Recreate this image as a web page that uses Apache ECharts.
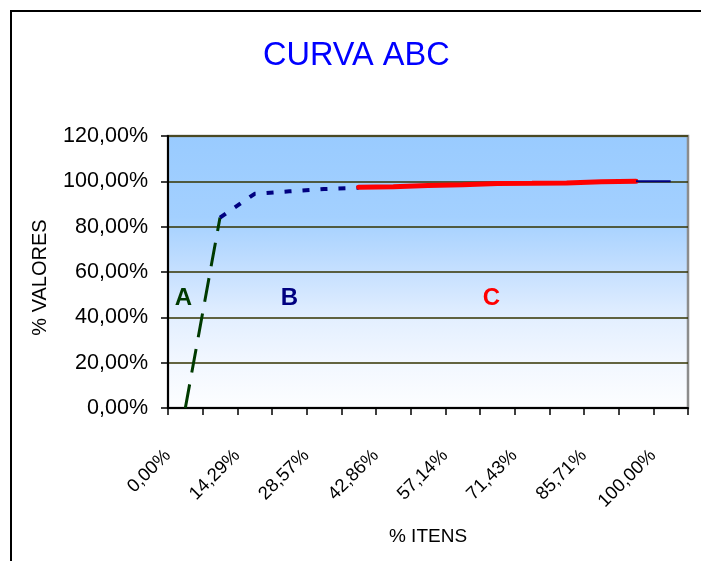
<!DOCTYPE html>
<html>
<head>
<meta charset="utf-8">
<script src="https://cdn.jsdelivr.net/npm/echarts@6/dist/echarts.min.js"></script>
<style>
html,body{margin:0;padding:0;background:#fff;}
#chart{width:701px;height:561px;}
</style>
</head>
<body>
<div id="chart"></div>
<script>
// Category labels (% ITENS)
var categories = ['0,00%','7,14%','14,29%','21,43%','28,57%','35,71%','42,86%','50,00%','57,14%','64,29%','71,43%','78,57%','85,71%','92,86%','100,00%'];
// Series values (% VALORES)
var serieA = [0, 84, null, null, null, null, null, null, null, null, null, null, null, null, null];
var serieB = [null, 84, 94.5, 95.6, 96.6, 97.2, null, null, null, null, null, null, null, null, null];
var serieC = [null, null, null, null, null, 97.4, 97.6, 98.2, 98.5, 99.0, 99.1, 99.3, 99.8, 100, null];
var serieD = [null, null, null, null, null, null, null, null, null, null, null, null, null, 100, 100];
// Y ticks
var yMin = 0, yMax = 120, yStep = 20;

var FONT = 'Liberation Sans, Arial, sans-serif';
var chart = echarts.init(document.getElementById('chart'), null, {renderer: 'canvas'});

var option = {
  animation: false,
  backgroundColor: '#ffffff',
  title: {
    text: 'CURVA ABC',
    left: 263,
    top: 40,
    padding: 0,
    textStyle: {color: '#0000FF', fontSize: 32.5, fontWeight: 'normal', fontFamily: FONT}
  },
  grid: {
    left: 168, right: 13, top: 136, bottom: 153,
    show: true,
    borderColor: '#8c8c8c',
    borderWidth: 2.5,
    backgroundColor: new echarts.graphic.LinearGradient(0, 0, 0, 1, [
      {offset: 0, color: '#99CBFF'},
      {offset: 0.3, color: '#A3D0FF'},
      {offset: 0.5, color: '#C6E0FF'},
      {offset: 0.67, color: '#E3EFFF'},
      {offset: 0.83, color: '#F2F7FF'},
      {offset: 1, color: '#FDFEFF'}
    ])
  },
  xAxis: {
    type: 'category',
    data: categories,
    boundaryGap: true,
    name: '% ITENS',
    nameLocation: 'middle',
    nameGap: 119,
    nameTextStyle: {color: '#000', fontSize: 19, fontFamily: FONT},
    axisLine: {lineStyle: {color: '#000', width: 2}},
    axisTick: {show: true, interval: 0, length: 7, lineStyle: {color: '#000', width: 1.5}},
    axisLabel: {
      interval: 1,
      rotate: 45,
      margin: 27,
      padding: [0, 25, 0, 0],
      color: '#000',
      fontSize: 18.5,
      fontFamily: FONT
    },
    splitLine: {show: false}
  },
  yAxis: {
    type: 'value',
    min: yMin, max: yMax, interval: yStep,
    name: '% VALORES',
    nameLocation: 'middle',
    nameRotate: 90,
    nameGap: 118,
    nameTextStyle: {color: '#000', fontSize: 20, fontFamily: FONT, padding: [0, 11, 0, 0]},
    axisLine: {show: true, lineStyle: {color: '#000', width: 2}},
    axisTick: {show: true, inside: false, length: 7, lineStyle: {color: '#000', width: 1.5}},
    axisLabel: {
      margin: 20,
      padding: [7, 0, 0, 0],
      color: '#000',
      fontSize: 21.5,
      fontFamily: FONT,
      formatter: function (v) { return v.toFixed(2).replace('.', ',') + '%'; }
    },
    splitLine: {show: true, lineStyle: {color: '#333300', width: 1.5}}
  },
  series: [
    {
      name: 'A', type: 'line', data: serieA, showSymbol: false, symbol: 'none',
      connectNulls: false,
      lineStyle: {color: '#003A00', width: 3, type: [24, 12], cap: 'butt'}
    },
    {
      name: 'B', type: 'line', data: serieB, showSymbol: false, symbol: 'none',
      lineStyle: {color: '#000080', width: 4, type: [7, 11], cap: 'butt'}
    },
    {
      name: 'C', type: 'line', data: serieC, showSymbol: false, symbol: 'none',
      lineStyle: {color: '#FF0000', width: 5, type: 'solid', cap: 'round'}
    },
    {
      name: 'D', type: 'line', data: serieD, showSymbol: false, symbol: 'none',
      lineStyle: {color: '#000080', width: 2, type: 'solid'}
    }
  ],
  graphic: [
    {
      type: 'rect', z: 100, silent: true,
      shape: {x: 11, y: 11, width: 800, height: 700},
      style: {fill: 'none', stroke: '#000', lineWidth: 2}
    },
    {
      type: 'text', z: 100, x: 183.5, y: 298,
      style: {text: 'A', fill: '#003A00', font: 'bold 24px ' + FONT, textAlign: 'center', textVerticalAlign: 'middle'}
    },
    {
      type: 'text', z: 100, x: 289.5, y: 298,
      style: {text: 'B', fill: '#000080', font: 'bold 24px ' + FONT, textAlign: 'center', textVerticalAlign: 'middle'}
    },
    {
      type: 'text', z: 100, x: 491.5, y: 298,
      style: {text: 'C', fill: '#FF0000', font: 'bold 24px ' + FONT, textAlign: 'center', textVerticalAlign: 'middle'}
    }
  ]
};
chart.setOption(option);
</script>
</body>
</html>
